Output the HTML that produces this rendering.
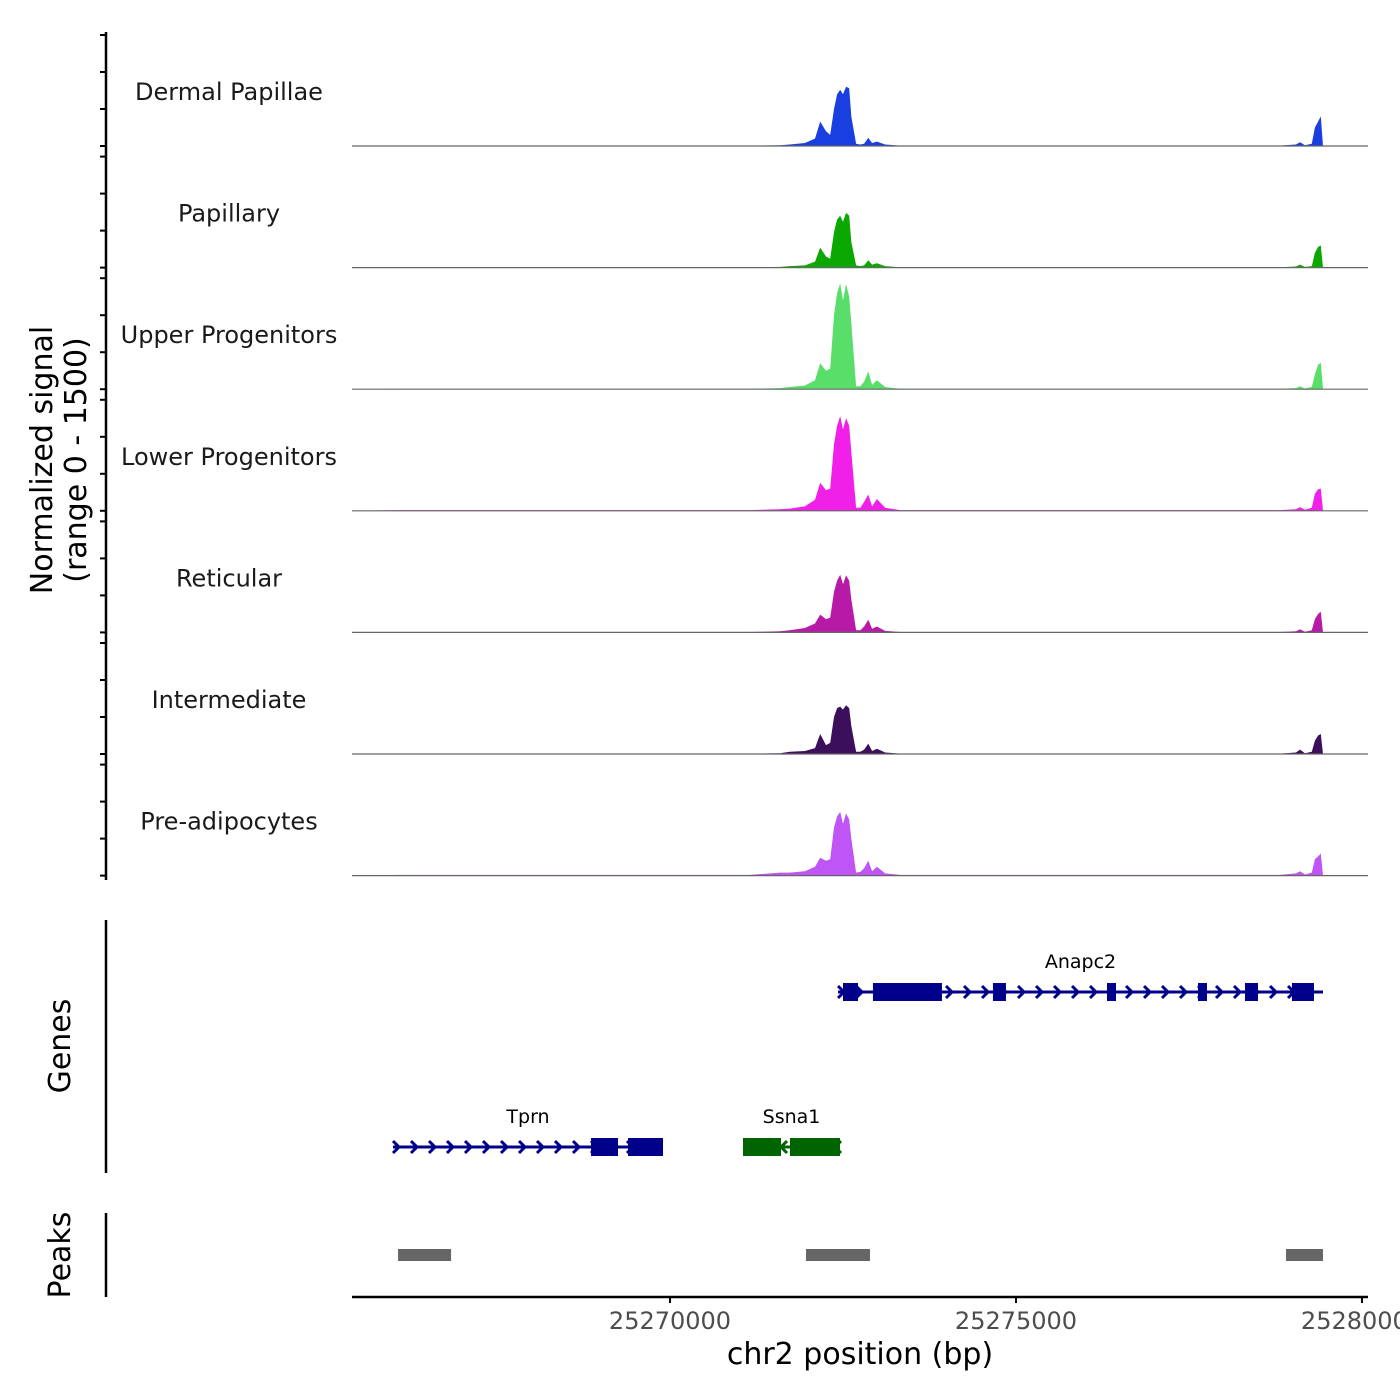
<!DOCTYPE html>
<html><head><meta charset="utf-8"><style>
html,body{margin:0;padding:0;background:#fff;}
svg{display:block;font-family:"DejaVu Sans","Liberation Sans",sans-serif;}
</style></head><body>
<svg id="chart" width="1400" height="1400" xmlns="http://www.w3.org/2000/svg"></svg>
<script>
const positions=[25265405,25266100,25267540,25271150,25271590,25271730,25271950,25272095,25272170,25272255,25272315,25272370,25272415,25272460,25272500,25272545,25272590,25272620,25272690,25272750,25272805,25272865,25272920,25272990,25273110,25273325,25274770,25278815,25279045,25279105,25279175,25279275,25279320,25279365,25279405,25279436];
const trackNames=["Dermal Papillae","Papillary","Upper Progenitors","Lower Progenitors","Reticular","Intermediate","Pre-adipocytes"];
const trackColors=["#1a3fe0","#0aa800","#5ade6a","#f020e8","#b81aa8","#3c0f5c","#bf55f5"];
const dermal=[0,5,5,5,10,20,40,100,330,200,150,500,700,760,700,800,780,400,30,20,30,110,40,60,20,5,5,5,20,50,10,30,250,330,400,0];
const papillary=[0,5,5,5,10,20,30,80,270,150,120,480,650,700,620,740,700,350,30,20,30,100,40,60,20,5,5,5,15,40,10,20,200,280,300,0];
const upper=[0,5,5,5,15,30,50,120,350,250,280,1000,1300,1430,1200,1420,1250,900,40,40,100,240,60,120,30,5,5,5,15,40,10,30,200,330,360,0];
const lower=[0,10,10,10,20,30,60,150,380,280,300,900,1150,1280,1100,1250,1150,800,40,40,120,220,60,160,40,10,10,10,20,50,15,40,230,290,300,0];
const reticular=[0,5,5,5,15,30,60,120,240,180,200,550,700,780,650,770,700,450,30,30,80,170,50,80,20,5,5,5,15,40,10,30,180,250,280,0];
const intermediate=[0,5,5,5,10,30,40,80,270,120,150,500,620,640,600,660,620,380,30,30,60,140,40,70,20,5,5,5,20,60,10,30,180,250,270,0];
const preadipo=[0,10,10,10,40,40,60,120,240,200,220,650,800,860,700,840,760,500,40,50,100,200,60,120,30,10,10,10,30,60,15,40,220,260,300,0];
const trackValues=[dermal,papillary,upper,lower,reticular,intermediate,preadipo];
const xTicks=[25270000,25275000,25280000];
const xTickLabels=["25270000","25275000","25280000"];
const geneNames=["Anapc2","Tprn","Ssna1"];
const geneStarts=[25272428,25265997,25271055];
const geneEnds=[25279436,25269899,25272457];
const geneStrands=[1,1,-1];
const geneRows=[0,1,1];
const geneColors=["#00008b","#00008b","#006400"];
const geneExons=[[[25272500,25272717],[25272933,25273930],[25274667,25274855],[25276315,25276445],[25277630,25277760],[25278309,25278497],[25278988,25279306]],[[25268859,25269249],[25269393,25269899]],[[25271055,25271604],[25271734,25272457]]];
const peakStarts=[25266070,25271965,25278902];
const peakEnds=[25266836,25272890,25279436];

const NS="http://www.w3.org/2000/svg";
const svg=document.getElementById('chart');
function mk(tag,attrs,parent){const e=document.createElementNS(NS,tag);for(const k in attrs)e.setAttribute(k,attrs[k]);(parent||svg).appendChild(e);return e;}
const X=bp=>670+(bp-25270000)*346/5000;
const trackH=111, yMax=1500;
const base=i=>146+121.6*i;
const Y=(i,v)=>base(i)-v/yMax*trackH;

let a=mk('line',{x1:106,y1:32,x2:106,y2:880,stroke:'#000','stroke-width':2.5});


for(let i=0;i<7;i++){for(let k=0;k<4;k++){const y=base(i)-k*37;
 const t=mk('line',{x1:100,y1:y,x2:106,y2:y,stroke:'#000','stroke-width':2});
 
 }}
let yt=mk('text',{x:0,y:0,transform:'translate(52,460) rotate(-90)','text-anchor':'middle','font-size':30,fill:'#000'});
yt.textContent='Normalized signal';


let yt2=mk('text',{x:0,y:0,transform:'translate(86,460) rotate(-90)','text-anchor':'middle','font-size':30,fill:'#000'});
yt2.textContent='(range 0 - 1500)';



for(let i=0;i<7;i++){
 let d='M'+X(positions[0])+','+base(i);
 positions.forEach((p,j)=>{d+=' L'+X(p).toFixed(1)+','+Y(i,trackValues[i][j]).toFixed(1);});
 d+=' L'+X(positions[positions.length-1])+','+base(i)+' Z';
 const ar=mk('path',{d:d,fill:trackColors[i]});
 
 
 const bl=mk('line',{x1:352,y1:base(i),x2:1368,y2:base(i),stroke:'#666','stroke-width':1.2});
 
 
 const lb=mk('text',{x:229,y:base(i)-46,'text-anchor':'middle','font-size':24,fill:'#1a1a1a'});
 lb.textContent=trackNames[i];
 
 
}

let ga=mk('line',{x1:106,y1:920,x2:106,y2:1173,stroke:'#000','stroke-width':2.5});


let gt=mk('text',{x:0,y:0,transform:'translate(70,1046) rotate(-90)','text-anchor':'middle','font-size':30,fill:'#000'});
gt.textContent='Genes';


const rowY=[992,1147];
for(let g=0;g<geneNames.length;g++){
 const y=rowY[geneRows[g]],c=geneColors[g],x1=X(geneStarts[g]),x2=X(geneEnds[g]);
 const gg=mk('g',{});
 
 
 mk('line',{x1:x1,y1:y,x2:x2,y2:y,stroke:c,'stroke-width':3},gg);
 for(let x=x1+4;x<=x2;x+=18){
  const s=geneStrands[g];
  mk('polyline',{points:`${x-4*s},${y-6} ${x+2*s},${y} ${x-4*s},${y+6}`,fill:'none',stroke:c,'stroke-width':3},gg);
 }
 geneExons[g].forEach(e=>{mk('rect',{x:X(e[0]),y:y-9,width:X(e[1])-X(e[0]),height:18,fill:c},gg);});
 const t=mk('text',{x:(x1+x2)/2,y:y-24,'text-anchor':'middle','font-size':19,fill:'#000'},gg);
 t.textContent=geneNames[g];
}

let pa=mk('line',{x1:106,y1:1213,x2:106,y2:1297,stroke:'#000','stroke-width':2.5});


let pt=mk('text',{x:0,y:0,transform:'translate(70,1255) rotate(-90)','text-anchor':'middle','font-size':30,fill:'#000'});
pt.textContent='Peaks';


for(let p=0;p<peakStarts.length;p++){
 const r=mk('rect',{x:X(peakStarts[p]),y:1249,width:X(peakEnds[p])-X(peakStarts[p]),height:12,fill:'#666'});
 
 
}

let xa=mk('line',{x1:352,y1:1297,x2:1368,y2:1297,stroke:'#000','stroke-width':2.5});


xTicks.forEach((t,i)=>{
 const tk=mk('line',{x1:X(t),y1:1297,x2:X(t),y2:1303,stroke:'#000','stroke-width':2});
 
 
 const tl=mk('text',{x:X(t),y:1329,'text-anchor':'middle','font-size':24,fill:'#4d4d4d'});
 tl.textContent=xTickLabels[i];
 
 
});
let xt=mk('text',{x:860,y:1364,'text-anchor':'middle','font-size':30,fill:'#000'});
xt.textContent='chr2 position (bp)';


</script>
</body></html>
